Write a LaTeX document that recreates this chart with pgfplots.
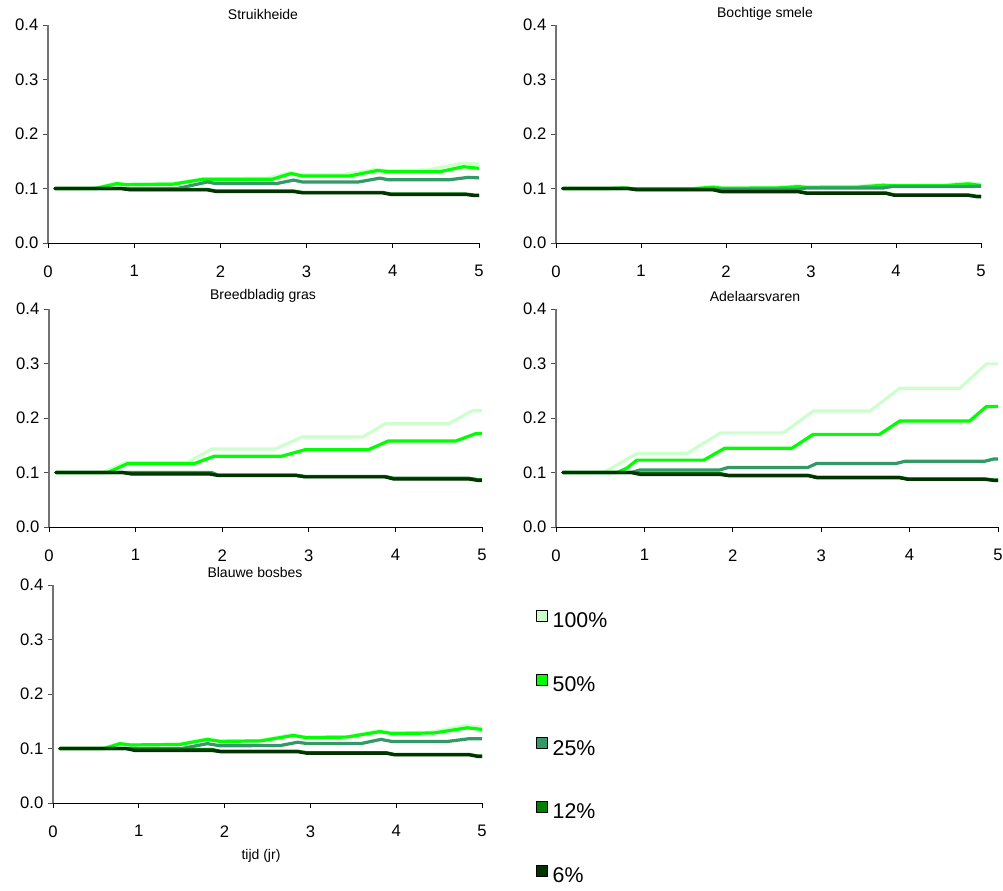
\documentclass[border=0pt]{standalone}
\usepackage{fontspec}
\setmainfont{Liberation Sans}
\usepackage{pgfplots}
\pgfplotsset{compat=1.18}
\definecolor{cA}{HTML}{CCFFCC}
\definecolor{cB}{HTML}{00FF00}
\definecolor{cC}{HTML}{339966}
\definecolor{cD}{HTML}{008000}
\definecolor{cE}{HTML}{003300}
\pgfplotsset{
  panel/.style={scale only axis, height=163.5pt,
    xmin=0, xmax=5, ymin=0, ymax=0.4,
    axis x line*=bottom, axis y line*=left,
    axis line style={-},
    x axis line style={black, line width=0.6pt},
    y axis line style={black!55, line width=0.8pt},
    xtick={0,1,2,3,4,5}, ytick={0,0.1,0.2,0.3,0.4},
    yticklabel style={/pgf/number format/.cd, fixed, fixed zerofill, precision=1},
    xticklabel style={yshift=-9.5pt},
    tick align=outside, major tick length=3.75pt,
    x tick style={black, line width=0.6pt},
    y tick style={black!70, line width=0.6pt},
    tick label style={font=\fontsize{12.5}{14}\selectfont},
    /pgf/number format/assume math mode=true,
    every axis plot/.append style={line width=2.4pt, line join=round, line cap=round, mark=none},
  },
  sq/.style={legend image code/.code={\draw[fill=#1, draw=black, line width=0.5pt] (0pt,0.3pt) rectangle (8.3pt,8.6pt);}},
}
\begin{document}
\begin{tikzpicture}
\useasboundingbox (0,0) rectangle (752.25pt,-667.5pt);

% Panel 1: Struikheide
\begin{axis}[panel, anchor=south west, at={(36pt,-182.25pt)}, width=323.25pt]
\addplot[cA] coordinates {(0.08,0.1)(0.5,0.1)(0.8,0.110)(0.9,0.108)(1.45,0.109)(1.8,0.118)(2.55,0.119)(2.8,0.129)(2.95,0.125)(3.45,0.126)(3.8,0.135)(3.95,0.133)(4.4,0.134)(4.8,0.146)(5,0.145)};
\addplot[cB] coordinates {(0.08,0.1)(0.55,0.1)(0.8,0.109)(0.9,0.107)(1.45,0.108)(1.8,0.117)(2.6,0.117)(2.82,0.1275)(2.95,0.123)(3.5,0.123)(3.82,0.133)(3.95,0.131)(4.55,0.131)(4.82,0.140)(5,0.137)};
\addplot[cC] coordinates {(0.08,0.1)(1.5,0.1)(1.85,0.112)(1.95,0.109)(2.65,0.109)(2.85,0.1155)(2.95,0.112)(3.6,0.112)(3.85,0.119)(3.95,0.116)(4.65,0.116)(4.88,0.1205)(5,0.1195)};
\addplot[cD] coordinates {(0.08,0.1)(0.85,0.1)(0.95,0.0983)(1.85,0.0983)(1.95,0.0953)(2.85,0.0953)(2.95,0.0928)(3.88,0.0928)(3.98,0.0898)(4.85,0.0898)(4.95,0.0878)(5,0.0878)};
\addplot[cE] coordinates {(0.08,0.1)(0.85,0.1)(0.95,0.0975)(1.85,0.0975)(1.95,0.0945)(2.85,0.0945)(2.95,0.092)(3.88,0.092)(3.98,0.089)(4.85,0.089)(4.95,0.087)(5,0.087)};
\end{axis}

% Panel 2: Bochtige smele
\begin{axis}[panel, anchor=south west, at={(417pt,-182.25pt)}, width=318.75pt]
\addplot[cA] coordinates {(0.08,0.1)(0.6,0.1)(0.8,0.1015)(0.9,0.1)(1.6,0.1)(1.85,0.1035)(1.95,0.1015)(2.6,0.102)(2.85,0.105)(2.95,0.1035)(3.55,0.104)(3.85,0.1075)(3.95,0.106)(4.55,0.1065)(4.85,0.111)(5,0.108)};
\addplot[cB] coordinates {(0.08,0.1)(0.6,0.1)(0.8,0.101)(0.9,0.0995)(1.6,0.0995)(1.85,0.1025)(1.95,0.1005)(2.6,0.101)(2.85,0.1035)(2.95,0.102)(3.55,0.1025)(3.85,0.106)(3.95,0.105)(4.55,0.105)(4.85,0.1085)(5,0.1055)};
\addplot[cC] coordinates {(0.08,0.1)(0.85,0.1)(0.95,0.099)(1.85,0.099)(1.95,0.0985)(2.85,0.0985)(2.95,0.101)(3.85,0.101)(3.95,0.1035)(4.85,0.1035)(4.95,0.104)(5,0.104)};
\addplot[cD] coordinates {(0.08,0.1)(0.85,0.1)(0.95,0.0983)(1.85,0.0983)(1.95,0.0948)(2.85,0.0948)(2.95,0.092)(3.88,0.092)(3.98,0.0883)(4.85,0.0883)(4.95,0.0858)(5,0.0858)};
\addplot[cE] coordinates {(0.08,0.1)(0.85,0.1)(0.95,0.0975)(1.85,0.0975)(1.95,0.094)(2.85,0.094)(2.95,0.0912)(3.88,0.0912)(3.98,0.0875)(4.85,0.0875)(4.95,0.085)(5,0.085)};
\end{axis}

% Panel 3: Breedbladig gras
\begin{axis}[panel, anchor=south west, at={(36.75pt,-395.25pt)}, width=324.75pt]
\addplot[cA] coordinates {(0.08,0.1)(0.62,0.1)(0.89,0.1185)(1.6,0.1185)(1.88,0.143)(2.61,0.143)(2.92,0.165)(3.62,0.165)(3.89,0.190)(4.62,0.190)(4.89,0.2135)(5,0.2135)};
\addplot[cB] coordinates {(0.08,0.1)(0.68,0.1)(0.91,0.1166)(1.68,0.1166)(1.91,0.130)(2.69,0.130)(2.96,0.142)(3.69,0.142)(3.92,0.158)(4.7,0.158)(4.93,0.1715)(5,0.1715)};
\addplot[cC] coordinates {(0.08,0.1)(1.88,0.1)(1.95,0.0952)(2.85,0.0952)(2.95,0.0928)(3.88,0.0928)(3.98,0.0893)(4.85,0.0893)(4.95,0.0868)(5,0.0868)};
\addplot[cD] coordinates {(0.08,0.1)(0.85,0.1)(0.95,0.0983)(1.85,0.0983)(1.95,0.0950)(2.85,0.0950)(2.95,0.0925)(3.88,0.0925)(3.98,0.089)(4.85,0.089)(4.95,0.0865)(5,0.0865)};
\addplot[cE] coordinates {(0.08,0.1)(0.85,0.1)(0.95,0.0973)(1.85,0.0973)(1.95,0.0947)(2.85,0.0947)(2.95,0.092)(3.88,0.092)(3.98,0.088)(4.85,0.088)(4.95,0.0855)(5,0.0855)};
\end{axis}

% Panel 4: Adelaarsvaren
\begin{axis}[panel, anchor=south west, at={(417pt,-395.25pt)}, width=331.5pt]
\addplot[cA] coordinates {(0.08,0.1)(0.54,0.1)(0.915,0.1347)(1.48,0.1347)(1.86,0.1727)(2.57,0.1727)(2.91,0.2127)(3.55,0.2127)(3.89,0.2547)(4.57,0.2547)(4.87,0.2993)(5,0.2993)};
\addplot[cB] coordinates {(0.08,0.1)(0.69,0.1)(0.8,0.108)(0.915,0.1227)(1.67,0.1227)(1.91,0.1447)(2.67,0.1447)(2.91,0.170)(3.66,0.170)(3.89,0.1947)(4.68,0.1947)(4.87,0.2213)(5,0.2213)};
\addplot[cC] coordinates {(0.08,0.1)(0.85,0.1)(0.95,0.1047)(1.85,0.1047)(1.95,0.1093)(2.85,0.1093)(2.95,0.1167)(3.85,0.1167)(3.95,0.1207)(4.85,0.1207)(4.95,0.1247)(5,0.1247)};
\addplot[cD] coordinates {(0.08,0.1)(0.85,0.1)(0.95,0.0983)(1.85,0.0983)(1.95,0.0950)(2.85,0.0950)(2.95,0.0915)(3.88,0.0915)(3.98,0.0883)(4.85,0.0883)(4.95,0.0863)(5,0.0863)};
\addplot[cE] coordinates {(0.08,0.1)(0.85,0.1)(0.95,0.0965)(1.85,0.0965)(1.95,0.0942)(2.85,0.0942)(2.95,0.0905)(3.88,0.0905)(3.98,0.0875)(4.85,0.0875)(4.95,0.0855)(5,0.0855)};
\end{axis}

% Panel 5: Blauwe bosbes
\begin{axis}[panel, anchor=south west, at={(39.75pt,-602.25pt)}, width=321.75pt,
  legend style={at={(1.1259,0.8880)}, anchor=north west, draw=none, fill=none,
    inner sep=0pt, font=\fontsize{16}{19}\selectfont,
    nodes={inner sep=0pt, text height=12.5pt, text depth=3.5pt},
    row sep=31pt, column sep=3.5pt},
  legend cell align=left]
\addplot[cA, sq=cA] coordinates {(0.08,0.1)(0.55,0.1)(0.78,0.1095)(0.9,0.107)(1.45,0.108)(1.8,0.118)(1.95,0.114)(2.42,0.115)(2.8,0.126)(2.95,0.121)(3.43,0.122)(3.8,0.133)(3.95,0.129)(4.4,0.130)(4.8,0.142)(5,0.139)};
\addplot[cB, sq=cB] coordinates {(0.08,0.1)(0.6,0.1)(0.78,0.109)(0.9,0.1065)(1.48,0.1075)(1.8,0.1167)(1.95,0.113)(2.42,0.114)(2.8,0.124)(2.95,0.120)(3.43,0.121)(3.81,0.131)(3.95,0.1275)(4.44,0.1285)(4.83,0.138)(5,0.135)};
\addplot[cC, sq=cC] coordinates {(0.08,0.1)(1.5,0.1)(1.8,0.109)(1.95,0.105)(2.65,0.1055)(2.85,0.1115)(2.95,0.1094)(3.6,0.1094)(3.82,0.1167)(3.95,0.113)(4.6,0.113)(4.85,0.118)(5,0.118)};
\addplot[cD, sq=cD] coordinates {(0.08,0.1)(0.85,0.1)(0.95,0.0983)(1.85,0.0983)(1.95,0.0950)(2.85,0.0950)(2.95,0.0925)(3.88,0.0925)(3.98,0.089)(4.85,0.089)(4.95,0.0863)(5,0.0863)};
\addplot[cE, sq=cE] coordinates {(0.08,0.1)(0.85,0.1)(0.95,0.0965)(1.85,0.0965)(1.95,0.0942)(2.85,0.0942)(2.95,0.0915)(3.88,0.0915)(3.98,0.0885)(4.85,0.0885)(4.95,0.0855)(5,0.0855)};
\legend{100\%, 50\%, 25\%, 12\%, 6\%}
\end{axis}

\node[font=\fontsize{10.5}{12}\selectfont] at (197.25pt,-10.5pt) {Struikheide};
\node[font=\fontsize{10.5}{12}\selectfont] at (573.75pt,-10.5pt) {Bochtige smele};
\node[font=\fontsize{10.5}{12}\selectfont] at (197.25pt,-222pt) {Breedbladig gras};
\node[font=\fontsize{10.5}{12}\selectfont] at (566.25pt,-222pt) {Adelaarsvaren};
\node[font=\fontsize{10.5}{12}\selectfont] at (191.25pt,-429pt) {Blauwe bosbes};
\node[font=\fontsize{10.5}{12}\selectfont] at (195.75pt,-642pt) {tijd (jr)};
\end{tikzpicture}
\end{document}
